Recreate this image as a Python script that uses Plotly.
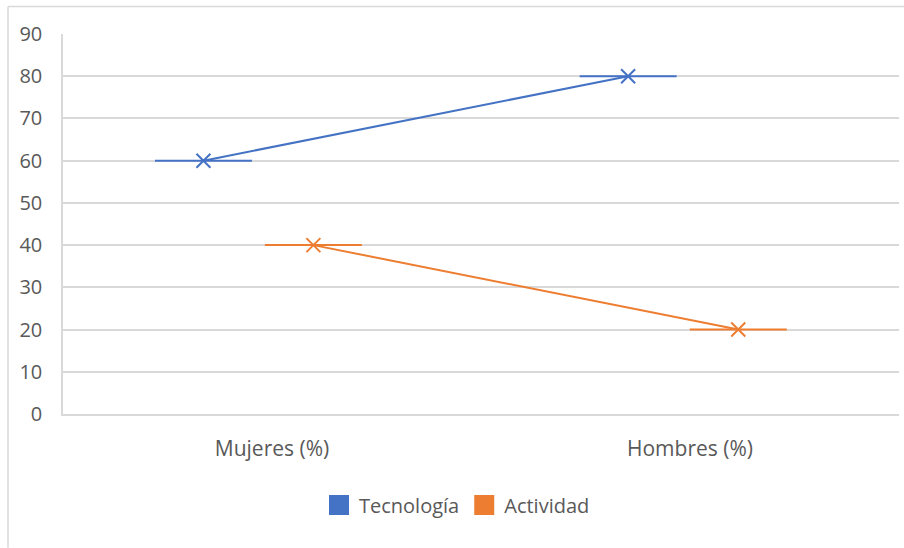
import plotly.graph_objects as go

categories = ["Mujeres (%)", "Hombres (%)"]
tecnologia = [60, 80]
actividad = [40, 20]
y_ticks = [0, 10, 20, 30, 40, 50, 60, 70, 80, 90]

# positions (style): category centers and per-point series offsets
cat_pos = [0.5, 1.5]
off_tec = [-0.164, -0.148]
off_act = [0.099, 0.1155]
half_w = 0.116

W, H = 904, 548
L, R, T, B = 63, 5, 33.5, 134
pw = W - L - R
ph = H - T - B

def px(x):
    return (x - L) / pw

def py(y):
    return (H - B - y) / ph

font_fam = "Open Sans, Segoe UI, sans-serif"
grey = "#595959"
blue = "#4472C4"
orange = "#ED7D31"

fig = go.Figure()

for name, vals, offs, col in [("Tecnología", tecnologia, off_tec, blue),
                              ("Actividad", actividad, off_act, orange)]:
    fig.add_trace(go.Scatter(
        x=[c + o for c, o in zip(cat_pos, offs)], y=vals, mode="lines+markers",
        line=dict(color=col, width=2),
        marker=dict(symbol="x-thin-open", size=14, line=dict(color=col, width=2)),
        error_x=dict(type="constant", value=half_w, width=0, thickness=2, color=col),
        showlegend=False, name=name, cliponaxis=False, hoverinfo="skip"))
    fig.add_trace(go.Scatter(
        x=[None], y=[None], mode="markers", name=name,
        marker=dict(symbol="square", size=16, color=col,
                    line=dict(color=col, width=4))))

shapes = [
    dict(type="line", xref="paper", yref="paper", x0=px(8), x1=px(904), y0=py(6), y1=py(6),
         line=dict(color="#d9d9d9", width=1.5)),
    dict(type="line", xref="paper", yref="paper", x0=px(8), x1=px(8), y0=py(6), y1=py(548),
         line=dict(color="#d9d9d9", width=1.5)),
]

fig.update_layout(
    width=W, height=H, autosize=False,
    margin=dict(l=L, r=R, t=T, b=B, autoexpand=False),
    paper_bgcolor="white", plot_bgcolor="white",
    font=dict(family=font_fam, size=20, color=grey),
    shapes=shapes,
    xaxis=dict(range=[0, 2], tickvals=cat_pos, ticktext=categories, automargin=False,
               showgrid=False, zeroline=False, showline=True, linecolor="#d9d9d9",
               linewidth=1.5, ticks="", ticklabelstandoff=15,
               tickfont=dict(size=21, color=grey)),
    yaxis=dict(range=[0, 90], tickvals=y_ticks, showgrid=True, gridcolor="#d9d9d9",
               gridwidth=1.5, zeroline=False, showline=True, linecolor="#d9d9d9",
               linewidth=1.5, ticks="", ticklabelstandoff=15, automargin=False,
               tickfont=dict(size=20, color=grey)),
    legend=dict(orientation="h", x=px(319), xanchor="left", y=py(505), yanchor="middle",
                font=dict(size=20, color=grey), itemwidth=30),
)

fig.write_html("out.html",
               config={"displayModeBar": False, "responsive": False},
               post_script="document.body.style.margin='0';document.body.style.overflow='hidden';")
